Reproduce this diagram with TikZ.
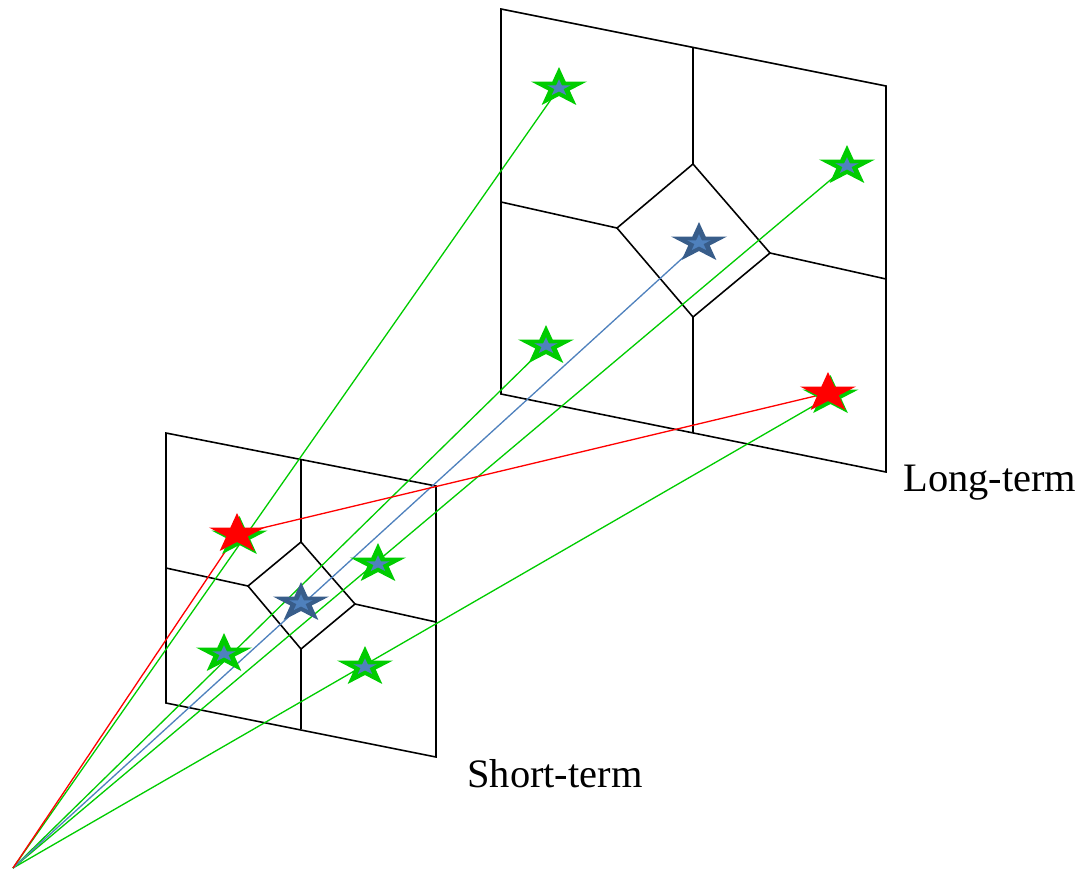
\documentclass[tikz,border=0pt]{standalone}
\usepackage{fontspec}
\setmainfont{Liberation Serif}
\usetikzlibrary{positioning}

\definecolor{stargreen}{RGB}{0,204,0}
\definecolor{starblue}{RGB}{79,129,189}
\definecolor{darkblue}{RGB}{56,93,138}

\tikzset{
  plane/.style={draw=black, line width=0.9pt, line join=miter},
  gline/.style={draw=stargreen, line width=0.75pt},
  bline/.style={draw=starblue, line width=0.75pt},
  rline/.style={draw=red, line width=0.75pt},
  lbl/.style={font=\fontsize{23}{27}\selectfont, inner sep=0pt},
  pics/starshape/.style args={#1/#2}{code={
      \fill[#1, xscale=29.5*#2, yscale=21*#2] (-90:1)
        \foreach \a/\r in {-54/0.382,-18/1,18/0.382,54/1,90/0.382,126/1,162/0.382,198/1,234/0.382} { -- (\a:\r) } -- cycle;
  }},
  pics/gstar/.style={code={\pic {starshape=stargreen/1}; \pic {starshape=starblue/0.42};}},
  pics/bstar/.style={code={\pic {starshape=darkblue/1}; \pic {starshape=starblue/0.42};}},
  pics/rstar/.style={code={\pic {starshape=red/1};}},
}

\begin{document}
\begin{tikzpicture}[x=0.02cm, y=-0.02cm]
    \useasboundingbox (0,0) rectangle (1081,870);

    % Short-term plane
    \draw[plane] (166,433) -- (436,486) -- (436,757) -- (166,703) -- cycle;
    \draw[plane] (301,542) -- (248,586) -- (301,649) -- (355,604) -- cycle;
    \draw[plane] (301,460) -- (301,542);
    \draw[plane] (301,649) -- (301,729);
    \draw[plane] (166,568) -- (248,586);
    \draw[plane] (355,604) -- (436,622);

    % Long-term plane
    \draw[plane] (501,9) -- (886,86) -- (886,472) -- (501,394) -- cycle;
    \draw[plane] (693,164) -- (617,228) -- (693,317) -- (770,253) -- cycle;
    \draw[plane] (693,48) -- (693,164);
    \draw[plane] (693,317) -- (693,433);
    \draw[plane] (501,202) -- (617,228);
    \draw[plane] (770,253) -- (886,279);

    % star centres
    \coordinate (o) at (13,868);
    \coordinate (lt1) at (559,88);
    \coordinate (lt2) at (847,166);
    \coordinate (ltc) at (699,243);
    \coordinate (lt3) at (546,346);
    \coordinate (ltr) at (828,393);
    \coordinate (lt4) at (830.5,396);
    \coordinate (st1) at (239.5,537);
    \coordinate (str) at (237,534);
    \coordinate (st2) at (378,564);
    \coordinate (stc) at (301,603);
    \coordinate (st3) at (224,654);
    \coordinate (st4) at (365,667);

    % rays
    \draw[gline] (o) -- (lt1);
    \draw[gline] (o) -- (lt2);
    \draw[gline] (o) -- (lt3);
    \draw[gline] (o) -- (lt4);
    \draw[bline] (o) -- (ltc);
    \draw[rline] (o) -- (str);
    \draw[rline] (str) -- (ltr);

    % stars
    \foreach \s in {lt1,lt2,lt3,lt4,st1,st2,st3,st4}
        \pic at (\s) {gstar};
    \pic at (ltc) {bstar};
    \pic at (stc) {bstar};
    \pic at (ltr) {rstar};
    \pic at (str) {rstar};

    % labels
    \node[lbl, anchor=base west] (ltlabel) at (903,491) {Long-term};
    \node[lbl, anchor=base west] (stlabel) at (467,787) {Short-term};
\end{tikzpicture}
\end{document}
